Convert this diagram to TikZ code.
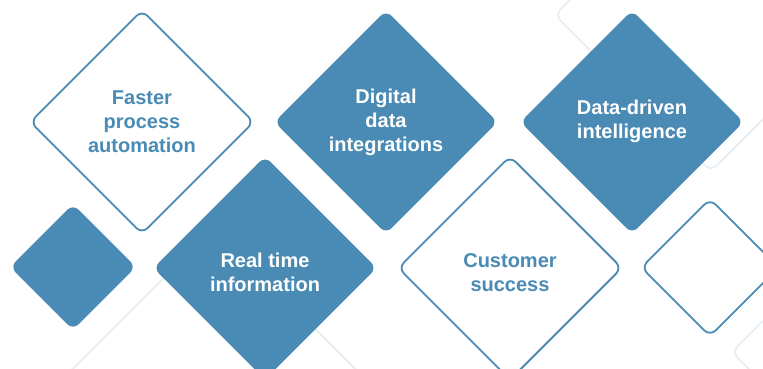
\documentclass[tikz,border=0pt]{standalone}
\usepackage{fontspec}
\setmainfont{Liberation Sans}
\definecolor{dblue}{HTML}{4A8BB5}
\definecolor{faint}{HTML}{E8F0F6}
\begin{document}
\begin{tikzpicture}[x=1pt,y=-1pt,
  dia/.style={rectangle, rotate=45, rounded corners=8pt, inner sep=0pt, outer sep=0pt, minimum size=#1},
  filleddia/.style={dia=#1, fill=dblue, draw=none},
  outlinedia/.style={dia=#1, draw=dblue, line width=1.8pt, fill=white},
  faintdia/.style={dia=#1, draw=faint, line width=2pt},
  whitetext/.style={text=white, align=center, font=\bfseries\fontsize{20}{24}\selectfont},
  bluetext/.style={text=dblue, align=center, font=\bfseries\fontsize{20}{24}\selectfont}]
\useasboundingbox (0,0) rectangle (763,369);
\clip (0,0) rectangle (763,369);
\fill[white] (0,0) rectangle (763,369);
% faint background diamonds
\node[faintdia=221pt] (f1) at (711,15) {};
\node[faintdia=221pt] (f2) at (214,384) {};
\node[faintdia=221pt] (f3) at (888,352) {};
% main diamonds
\node[outlinedia=158pt] (d1) at (142,122) {};
\node[filleddia=158pt] (d2) at (386,122) {};
\node[filleddia=158pt] (d3) at (632,122) {};
\node[filleddia=89pt] (d4) at (73,267) {};
\node[filleddia=158pt] (d5) at (265,268) {};
\node[outlinedia=158pt] (d6) at (510,268) {};
\node[outlinedia=97pt] (d7) at (710,267.5) {};
% texts
\node[bluetext] (t1) at (d1.center) {Faster\\process\\automation};
\node[whitetext] (t2) at (d2.center) {Digital\\data\\integrations};
\node[whitetext] (t3) at ([yshift=1pt]d3.center) {Data-driven\\intelligence};
\node[whitetext] (t5) at ([yshift=-4pt]d5.center) {Real time\\information};
\node[bluetext] (t6) at ([yshift=-5pt]d6.center) {Customer\\success};
\end{tikzpicture}
\end{document}
